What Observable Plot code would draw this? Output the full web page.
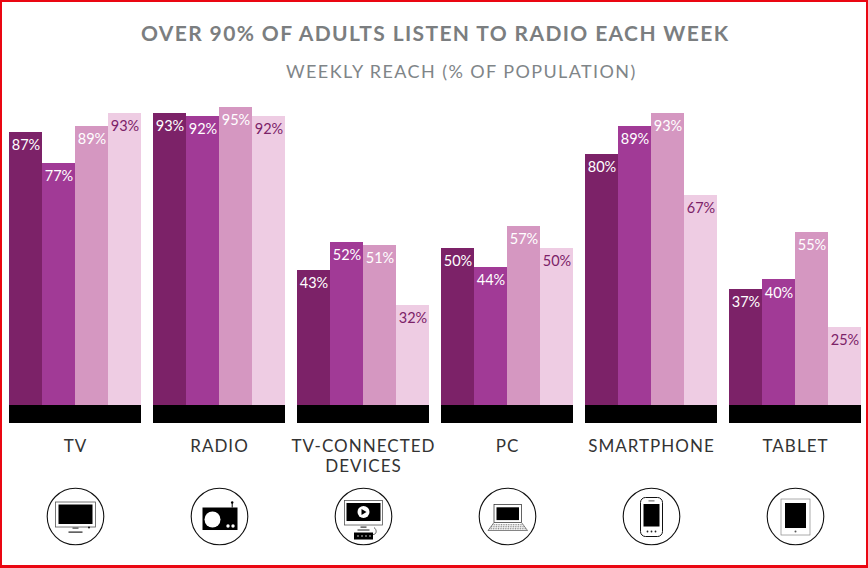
<!DOCTYPE html>
<html>
<head>
<meta charset="utf-8">
<script src="https://cdn.jsdelivr.net/npm/d3@7"></script>
<script src="https://cdn.jsdelivr.net/npm/@observablehq/plot@0.6"></script>
<style>
  html, body { margin: 0; padding: 0; background: #fff; }
  #frame { position: relative; width: 868px; height: 568px; overflow: hidden; background: #fff; font-family: Lato, sans-serif; }
  #edge { position: absolute; inset: 0; box-sizing: border-box; border: solid #ea0712; border-width: 2px 2px 3px 2px; pointer-events: none; }
  #title { position: absolute; left: 141px; top: 18px; font-size: 21px; line-height: 30px; font-weight: 700; letter-spacing: 0.0655em; color: #7b7e80; white-space: nowrap; }
  #subtitle { position: absolute; left: 286px; top: 59px; font-size: 18px; line-height: 24px; letter-spacing: 0.078em; color: #7f8588; white-space: nowrap; }
  #chart { position: absolute; left: 0; top: 90px; }
  #chart svg { background: transparent; }
  .cat text { letter-spacing: 0.06em; }
</style>
</head>
<body>
<div id="frame">
  <div id="title">OVER 90% OF ADULTS LISTEN TO RADIO EACH WEEK</div>
  <div id="subtitle">WEEKLY REACH (% OF POPULATION)</div>
  <div id="chart"></div>
  <div id="edge"></div>
</div>
<script>
const categories = ["TV", "RADIO", "TV-CONNECTED\nDEVICES", "PC", "SMARTPHONE", "TABLET"];
const series = ["a", "b", "c", "d"];
const seriesA = [87, 93, 43, 50, 80, 37];
const seriesB = [77, 92, 52, 44, 89, 40];
const seriesC = [89, 95, 51, 57, 93, 55];
const seriesD = [93, 92, 32, 50, 67, 25];
const colors = ["#7c2268", "#a13a96", "#d597c1", "#eecce3"];
const labelColors = ["#ffffff", "#ffffff", "#ffffff", "#7c2268"];
const baseBand = -5.73;

const ic = body => "data:image/svg+xml," + encodeURIComponent(
  `<svg xmlns="http://www.w3.org/2000/svg" viewBox="-30 -30 60 60"><circle r="28.3" fill="#fff" stroke="#111" stroke-width="1.1"/>${body}</svg>`);
const icons = [
  ic(`<rect x="-20" y="-14.5" width="40" height="25" fill="#fff" stroke="#555" stroke-width=".8"/><rect x="-17" y="-12" width="34" height="19.5" fill="#000"/><rect x="-3" y="11" width="6" height="1.2" fill="#444"/><rect x="-7" y="15" width="14" height="1.2" fill="#222"/><circle cx="13.5" cy="11" r=".9" fill="#000"/>`),
  ic(`<rect x="-17" y="-9" width="35" height="22.5" fill="#000"/><circle cx="-7" cy="3" r="8" fill="#fff"/><circle cx="8.500" cy="9.500" r="1.700" fill="#fff"/><circle cx="13.500" cy="9.500" r="1.700" fill="#fff"/><rect x="12.200" y="-14" width="1" height="5" fill="#000"/><circle cx="12.700" cy="-14" r="1.200" fill="#000"/>`),
  ic(`<rect x="-19" y="-16" width="38" height="24.500" fill="#fff" stroke="#555" stroke-width=".8"/><rect x="-17" y="-13.500" width="34" height="18" fill="#000"/><circle cy="-4.500" r="6" fill="#fff"/><path d="M-2-7.500 3-4.500-2-1.500Z" fill="#000"/><rect x="-3" y="10" width="6" height="1.200" fill="#333"/><rect x="-6" y="13" width="12" height="1" fill="#222"/><rect x="-9.500" y="16" width="19" height="7" fill="#000"/><path d="M-6 19.500h1m3 0h1m3 0h1m3 0h1" stroke="#fff" stroke-width="1.400"/><path d="M9.500 18c4 0 4-5 1-7" fill="none" stroke="#222" stroke-width=".7"/>`),
  ic(`<rect x="-13.500" y="-12" width="27.500" height="18" fill="#fff" stroke="#222" stroke-width=".7"/><rect x="-11" y="-9.200" width="22.500" height="12.800" fill="#000"/><path d="M-13.500 6-19.500 14H20L14 6Z" fill="#fff" stroke="#333" stroke-width=".6"/><path d="M-15 8.300H15.500M-16.500 10.300H17M-18 12.300H18.500" stroke="#666" stroke-width="1" stroke-dasharray="1 .7"/>`),
  ic(`<rect x="-11" y="-19" width="22" height="39" rx="5" fill="#fff" stroke="#111" stroke-width="1"/><rect x="-8" y="-12.500" width="16" height="22.500" fill="#000"/><rect x="-3" y="-16" width="6" height=".8" fill="#333"/><circle cx="-4" cy="15" r=".9" fill="#222"/><circle cy="15" r=".9" fill="#222"/><circle cx="4" cy="15" r=".9" fill="#222"/>`),
  ic(`<rect x="-14.500" y="-17.500" width="29" height="36" fill="#fff" stroke="#888" stroke-width=".7"/><rect x="-10.500" y="-13.500" width="21" height="25" fill="#000"/><circle cy="15" r="1" fill="#555"/>`)
];

const bars = categories.flatMap((category, i) =>
  [seriesA, seriesB, seriesC, seriesD].map((values, j) => ({category, series: series[j], value: values[i]})));
const groups = categories.map((category, i) => ({category, icon: icons[i], band: baseBand}));

const plot = Plot.plot({
  width: 868, height: 478,
  marginLeft: 7, marginRight: 5, marginTop: 1, marginBottom: 145,
  style: {fontFamily: "Lato, sans-serif", background: "transparent"},
  fx: {domain: categories, axis: null, paddingInner: 0.083, paddingOuter: 0},
  x: {domain: series, axis: null, padding: 0},
  y: {domain: [baseBand, 100], axis: null},
  color: {domain: series, range: colors},
  marks: [
    Plot.barY(bars, {fx: "category", x: "series", y: "value", fill: "series", insetLeft: 0, insetRight: 0, shapeRendering: "crispEdges"}),
    Plot.barY(groups, {fx: "category", y: "band", fill: "#000", shapeRendering: "crispEdges"}),
    Plot.text(bars, {
      fx: "category", x: "series", y: "value",
      text: d => d.value + "%",
      dy: 13, fontSize: 14.5,
      fill: d => labelColors[series.indexOf(d.series)]
    }),
    Plot.text(groups, {
      fx: "category", y: () => 0, text: "category",
      dy: 32, lineAnchor: "top", lineHeight: 1.18,
      fontSize: 17, fill: "#333", className: "cat"
    }),
    Plot.image(groups, {
      fx: "category", y: () => 0, src: "icon",
      width: 60, height: 60, dy: 111
    })
  ]
});
document.getElementById("chart").appendChild(plot);
</script>
</body>
</html>
